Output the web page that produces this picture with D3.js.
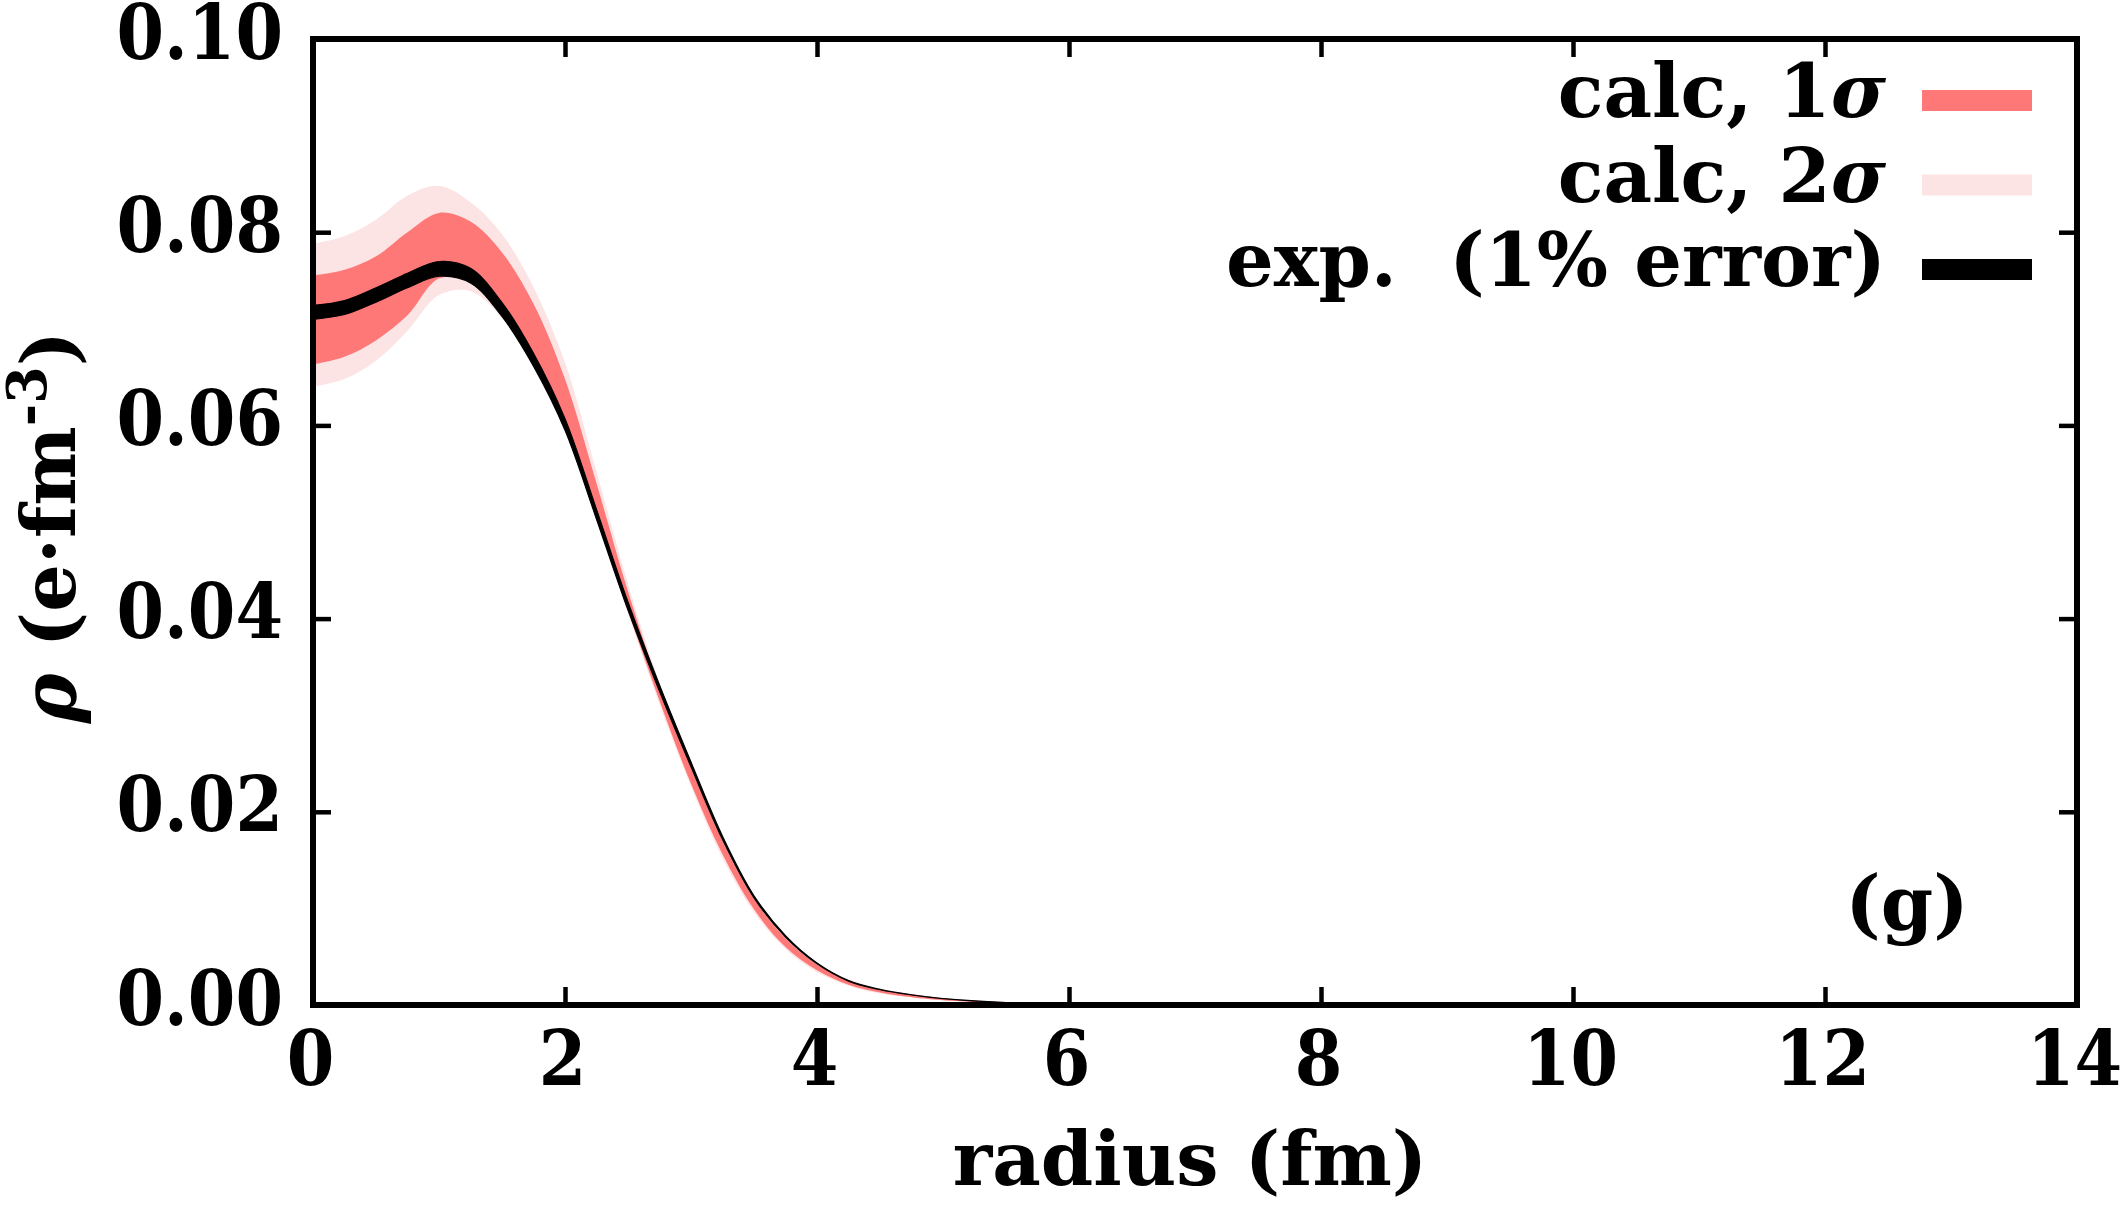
<!DOCTYPE html>
<html lang="en">
  <head>
    <meta charset="utf-8">
    <title>Charge density</title>
    <script src="https://cdn.jsdelivr.net/npm/d3@7"></script>
    <style>
      body { margin: 0; background: #fff; }
      svg text {
        font-family: "DejaVu Serif", serif;
        font-weight: bold;
        fill: #000;
      }
      svg text.num {
        font-family: "DejaVu Serif Condensed", "DejaVu Serif", serif;
        font-stretch: condensed;
      }
    </style>
  </head>
  <body>
    <svg id="chart"></svg>
    <script>
      // radius grid (fm) and densities
      var radius  = [0, 0.25, 0.5, 0.75, 1, 1.25, 1.5, 1.75, 2, 2.25, 2.5, 2.75, 3, 3.25, 3.5, 3.75, 4, 4.25, 4.5, 4.75, 5, 5.5, 6, 7, 8, 10, 12, 14];
      var expRho  = [0.0717, 0.0722, 0.0735, 0.0750, 0.0762, 0.0755, 0.0720, 0.0668, 0.0601, 0.0508, 0.0413, 0.0328, 0.0249, 0.0173, 0.0112, 0.0071, 0.0043, 0.0025, 0.0016, 0.00105, 0.00066, 0.00025, 0.00008, 0.00001, 0, 0, 0, 0];
      var calc1Hi = [0.0755, 0.0761, 0.0775, 0.0800, 0.0820, 0.0811, 0.0779, 0.0726, 0.0648, 0.0540, 0.0428, 0.0329, 0.0246, 0.0170, 0.0110, 0.0069, 0.0042, 0.0026, 0.0016, 0.0011, 0.0007, 0.0003, 0.0001, 0.00001, 0, 0, 0, 0];
      var calc1Lo = [0.0663, 0.0671, 0.0688, 0.0714, 0.0752, 0.0748, 0.0714, 0.0664, 0.0597, 0.0505, 0.0408, 0.0315, 0.0229, 0.0156, 0.0099, 0.0060, 0.0036, 0.0021, 0.0013, 0.0008, 0.0005, 0.0002, 0.00006, 0.00001, 0, 0, 0, 0];
      var calc2Hi = [0.0788, 0.0796, 0.0813, 0.0838, 0.0848, 0.0831, 0.0798, 0.0743, 0.0665, 0.0552, 0.0436, 0.0333, 0.0249, 0.0173, 0.0112, 0.0071, 0.0043, 0.0027, 0.0017, 0.0011, 0.0007, 0.0003, 0.0001, 0.00001, 0, 0, 0, 0];
      var calc2Lo = [0.0640, 0.0648, 0.0667, 0.0698, 0.0735, 0.0739, 0.0711, 0.0661, 0.0595, 0.0503, 0.0405, 0.0311, 0.0226, 0.0152, 0.0096, 0.0058, 0.0034, 0.0020, 0.0012, 0.0008, 0.0005, 0.0002, 0.00005, 0.00001, 0, 0, 0, 0];
      var expError = 0.01; // "1% error"

      var xTicks = [0, 2, 4, 6, 8, 10, 12, 14];
      var yTicks = [0, 0.02, 0.04, 0.06, 0.08, 0.10];

      var legendRows = [
        {text: "calc, ", num: "1", sym: "σ", color: "#ff7878"},
        {text: "calc, ", num: "2", sym: "σ", color: "#fde4e4"},
        {text: "exp.  (1% error)", num: "", sym: "", color: "#000"}
      ];

      var width = 2122, height = 1209;
      var margin = {top: 39, right: 45, bottom: 204, left: 313};

      var svg = d3.select("#chart")
          .attr("width", width)
          .attr("height", height);

      var x = d3.scaleLinear().domain([0, 14]).range([margin.left, width - margin.right]);
      var y = d3.scaleLinear().domain([0, 0.10]).range([height - margin.bottom, margin.top]);

      var rows = radius.map(function(r, i) {
        return {r: r, e: expRho[i], h1: calc1Hi[i], l1: calc1Lo[i], h2: calc2Hi[i], l2: calc2Lo[i]};
      });

      svg.append("clipPath").attr("id", "plotClip")
        .append("rect")
          .attr("x", x(0)).attr("y", y(0.10))
          .attr("width", x(14) - x(0)).attr("height", y(0) - y(0.10));

      var plot = svg.append("g").attr("clip-path", "url(#plotClip)");

      function band(lo, hi) {
        return d3.area()
          .x(function(d) { return x(d.r); })
          .y0(function(d) { return y(Math.max(0, lo(d))); })
          .y1(function(d) { return y(Math.max(0, hi(d))); })
          .curve(d3.curveCatmullRom.alpha(0.5));
      }

      plot.append("path").datum(rows)
        .attr("fill", "#fde4e4")
        .attr("d", band(function(d) { return d.l2; }, function(d) { return d.h2; }));

      plot.append("path").datum(rows)
        .attr("fill", "#ff7878")
        .attr("d", band(function(d) { return d.l1; }, function(d) { return d.h1; }));

      plot.append("path").datum(rows)
        .attr("fill", "#000")
        .attr("stroke", "#000")
        .attr("stroke-width", 1.2)
        .attr("d", band(function(d) { return d.e * (1 - expError); }, function(d) { return d.e * (1 + expError); }));

      // axes, gnuplot style: ticks inside, mirrored
      var tickLen = 18;
      function styleAxis(g) {
        g.select(".domain").remove();
        g.selectAll(".tick line").attr("stroke", "#000").attr("stroke-width", 4.5);
      }

      var xAxis = svg.append("g")
          .attr("transform", "translate(0," + y(0) + ")")
          .call(d3.axisBottom(x).tickValues(xTicks).tickSizeInner(-tickLen).tickSizeOuter(0).tickFormat(d3.format("d")))
          .call(styleAxis);
      xAxis.selectAll(".tick text")
          .attr("class", "num")
          .attr("dy", null).attr("y", 80).attr("x", -3)
          .attr("font-size", 76).attr("font-family", null);

      svg.append("g")
          .attr("transform", "translate(0," + y(0.10) + ")")
          .call(d3.axisTop(x).tickValues(xTicks).tickSizeInner(-tickLen).tickSizeOuter(0).tickFormat(""))
          .call(styleAxis);

      var yAxis = svg.append("g")
          .attr("transform", "translate(" + x(0) + ",0)")
          .call(d3.axisLeft(y).tickValues(yTicks).tickSizeInner(-tickLen).tickSizeOuter(0).tickFormat(d3.format(".2f")))
          .call(styleAxis);
      yAxis.selectAll(".tick text")
          .attr("class", "num")
          .attr("dy", null).attr("x", -30).attr("y", 19)
          .attr("font-size", 76).attr("font-family", null);

      svg.append("g")
          .attr("transform", "translate(" + x(14) + ",0)")
          .call(d3.axisRight(y).tickValues(yTicks).tickSizeInner(-tickLen).tickSizeOuter(0).tickFormat(""))
          .call(styleAxis);

      svg.append("rect")
          .attr("x", x(0)).attr("y", y(0.10))
          .attr("width", x(14) - x(0)).attr("height", y(0) - y(0.10))
          .attr("fill", "none").attr("stroke", "#000").attr("stroke-width", 6);

      // axis titles
      svg.append("text")
          .attr("x", 1190).attr("y", 1185)
          .attr("text-anchor", "middle").attr("font-size", 75)
          .text("radius (fm)");

      var yTitle = svg.append("text")
          .attr("transform", "translate(75,527) rotate(-90)")
          .attr("text-anchor", "middle").attr("font-size", 75);
      yTitle.append("tspan").attr("font-style", "italic").text("ρ");
      yTitle.append("tspan").text(" (e·fm");
      yTitle.append("tspan").attr("dy", -29).attr("font-size", 54).text("-3");
      yTitle.append("tspan").attr("dy", 29).text(")");

      // legend
      var legend = svg.append("g");
      legendRows.forEach(function(row, i) {
        var base = 117 + i * 84.5;
        var t = legend.append("text")
            .attr("x", 1886).attr("y", base)
            .attr("text-anchor", "end").attr("font-size", 75)
            .attr("xml:space", "preserve");
        t.append("tspan").text(row.text + row.num);
        if (row.sym) t.append("tspan").attr("font-style", "italic").text(row.sym);
        legend.append("rect")
            .attr("x", 1922).attr("y", base - 27)
            .attr("width", 110).attr("height", 21)
            .attr("fill", row.color);
      });

      svg.append("text")
          .attr("x", 1907).attr("y", 929)
          .attr("text-anchor", "middle").attr("font-size", 75)
          .text("(g)");
    </script>
  </body>
</html>
